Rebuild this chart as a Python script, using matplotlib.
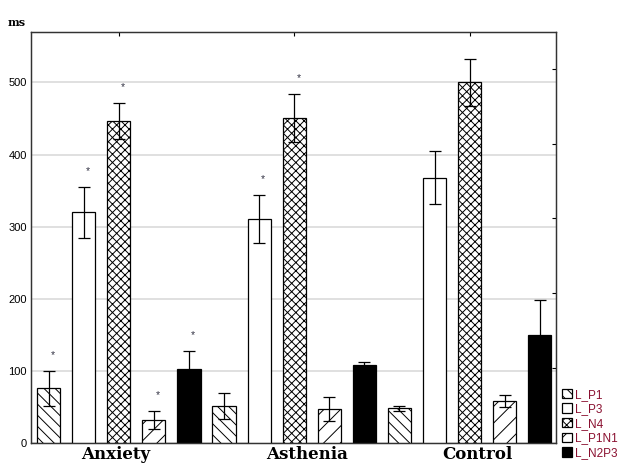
import numpy as np
import matplotlib
matplotlib.use('Agg')
import matplotlib.pyplot as plt

groups = ['Anxiety', 'Asthenia', 'Control']
series = ['L_P1', 'L_P3', 'L_N4', 'L_P1N1', 'L_N2P3']

# mean latency (ms) per group, one list per series
p1   = [76, 51, 48]
p3   = [320, 311, 368]
n4   = [446, 451, 500]
p1n1 = [32, 47, 58]
n2p3 = [103, 108, 150]

# error bar half-widths
p1_err   = [24, 18, 4]
p3_err   = [35, 33, 37]
n4_err   = [25, 33, 33]
p1n1_err = [13, 17, 8]
n2p3_err = [25, 4, 49]

# significance marks (1 = asterisk)
p1_sig   = [1, 0, 0]
p3_sig   = [1, 1, 0]
n4_sig   = [1, 1, 0]
p1n1_sig = [1, 0, 0]
n2p3_sig = [1, 0, 0]

values = [p1, p3, n4, p1n1, n2p3]
errors = [p1_err, p3_err, n4_err, p1n1_err, n2p3_err]
sigs = [p1_sig, p3_sig, n4_sig, p1n1_sig, n2p3_sig]

hatches = ['\\\\\\', '', 'xxxx', '//', '']
faces = ['white', 'white', 'white', 'white', 'black']

plt.rcParams['hatch.linewidth'] = 0.7

fig = plt.figure(figsize=(6.24, 4.68), dpi=100)
ax = fig.add_axes([31/624, 25/468, 525/624, 411/468])

nser = len(series)
width = 0.66
handles = []
for j, name in enumerate(series):
    xs = np.arange(len(groups)) * nser + j
    b = ax.bar(xs, values[j], width, color=faces[j], edgecolor='black',
               linewidth=0.9, hatch=hatches[j], label=name, zorder=3)
    handles.append(b)
    ax.errorbar(xs, values[j], yerr=errors[j], fmt='none', ecolor='black',
                elinewidth=0.9, capsize=4, capthick=0.9, zorder=4)
    for x, v, e, s in zip(xs, values[j], errors[j], sigs[j]):
        if s:
            ax.text(x + 0.12, v + e + 22, '*', ha='center', va='center',
                    fontsize=7.5, color='#333344', family='Liberation Sans')

ax.set_xlim(-0.5, 14.46)
ax.set_ylim(0, 570)
ax.set_yticks([0, 100, 200, 300, 400, 500])
ax.yaxis.grid(True, color='#e0e0e0', linewidth=1.4, zorder=0)
ax.set_axisbelow(True)
ax.tick_params(axis='y', length=0, pad=3, labelsize=8)
for lab in ax.get_yticklabels():
    lab.set_family('Liberation Sans')

centers = np.arange(len(groups)) * nser + 2
ax.set_xticks(centers)
ax.set_xticklabels([])
ax.tick_params(axis='x', bottom=False, top=True, direction='in', length=3, width=0.8)

label_pos = [1.92, 7.36, 12.23]
for g, xp in zip(groups, label_pos):
    ax.text(xp, -4, g, ha='center', va='top', fontsize=12, fontweight='bold',
            family='DejaVu Serif')

ax2 = ax.twinx()
ax2.set_ylim(0, 549)
ax2.set_yticks([100, 200, 300, 400, 500])
ax2.set_yticklabels([])
ax2.tick_params(axis='y', direction='in', length=3, width=0.8)

for a in (ax, ax2):
    for sp in a.spines.values():
        sp.set_linewidth(0.9)
        sp.set_color('#333333')

fig.text(8/624, 1 - 22/468, 'ms', ha='left', va='center', fontsize=8,
         fontweight='bold', family='DejaVu Serif')

leg = fig.legend(handles=handles, labels=series, loc='lower left',
                 bbox_to_anchor=(562/624, 9/468), frameon=False,
                 prop={'family': 'Liberation Sans', 'size': 8.5},
                 handlelength=0.85, handleheight=0.85, handletextpad=0.25,
                 labelspacing=0.22, borderaxespad=0, borderpad=0)
for t in leg.get_texts():
    t.set_color('#8a1030')

fig.savefig('out.png', dpi=100)
